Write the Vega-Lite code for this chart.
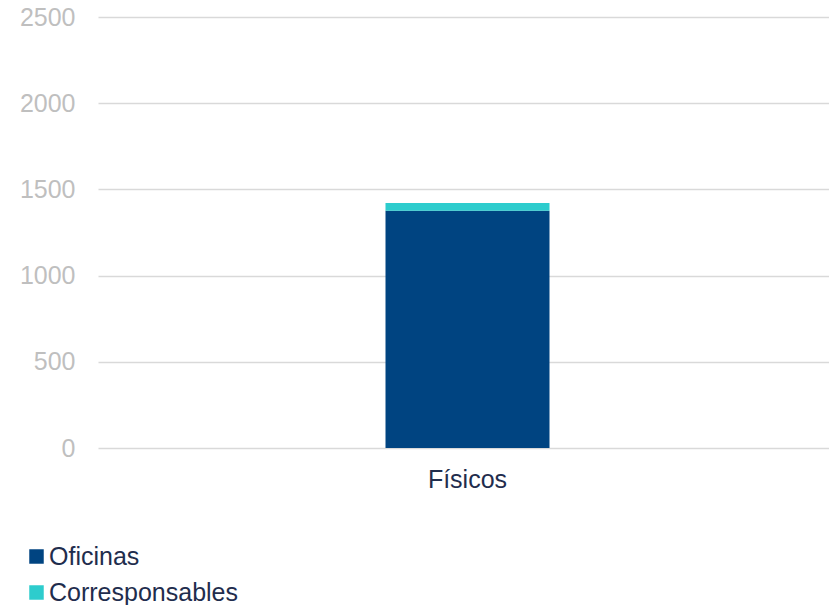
{
  "$schema": "https://vega.github.io/schema/vega-lite/v6.json",
  "autosize": {"type": "none"},
  "width": 731,
  "height": 431,
  "padding": {"left": 98, "top": 17, "right": 0, "bottom": 157},
  "background": "white",
  "config": {
    "font": "Liberation Sans",
    "view": {"stroke": null}
  },
  "data": {
    "values": [
      {"canal": "Físicos", "tipo": "Oficinas", "valor": 1376, "ord": 1},
      {"canal": "Físicos", "tipo": "Corresponsables", "valor": 45, "ord": 2}
    ]
  },
  "mark": {"type": "bar", "width": 164, "xOffset": 4},
  "encoding": {
    "x": {
      "field": "canal",
      "type": "nominal",
      "title": null,
      "scale": {"paddingInner": 0, "paddingOuter": 0},
      "axis": {
        "labelAngle": 0,
        "labelFont": "Liberation Sans",
        "labelFontSize": 25,
        "labelColor": "#1f2d4d",
        "labelPadding": 19,
        "labelOffset": 4,
        "domain": false,
        "ticks": false,
        "grid": false
      }
    },
    "y": {
      "field": "valor",
      "type": "quantitative",
      "stack": "zero",
      "title": null,
      "scale": {"domain": [0, 2500], "nice": false},
      "axis": {
        "values": [0, 500, 1000, 1500, 2000, 2500],
        "format": "d",
        "labelFont": "Liberation Sans",
        "labelFontSize": 25,
        "labelColor": "#bfbfbf",
        "labelPadding": 23,
        "ticks": false,
        "domain": false,
        "grid": true,
        "gridColor": "#d9d9d9",
        "gridWidth": 1.5
      }
    },
    "color": {
      "field": "tipo",
      "type": "nominal",
      "scale": {"domain": ["Oficinas", "Corresponsables"], "range": ["#004481", "#2dcccd"]},
      "legend": {
        "title": null,
        "orient": "none",
        "legendX": -74,
        "legendY": 527,
        "symbolType": "square",
        "symbolSize": 210,
        "symbolStrokeWidth": 0,
        "symbolOpacity": 1,
        "labelFont": "Liberation Sans",
        "labelFontSize": 25,
        "labelColor": "#1f2d4d",
        "labelOffset": 0,
        "labelLimit": 400,
        "rowPadding": 10
      }
    },
    "order": {"field": "ord", "type": "quantitative"}
  }
}
